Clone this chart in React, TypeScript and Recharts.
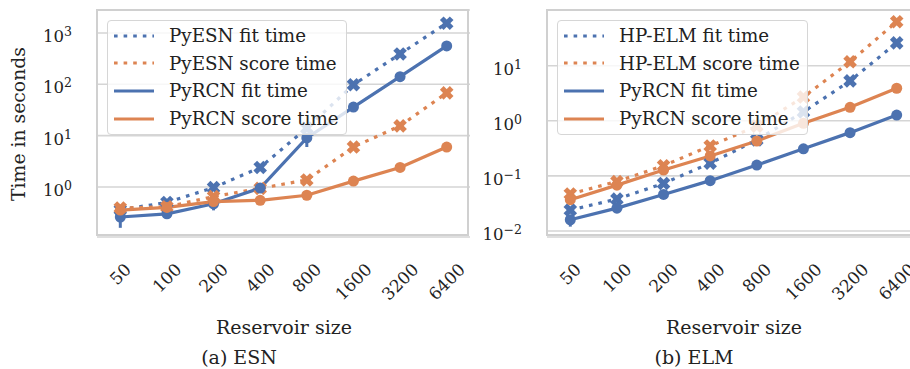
import React from 'react';
import { LineChart, Line, XAxis, YAxis, CartesianGrid, ErrorBar } from 'recharts';

const BLUE = '#4C72B0';
const ORANGE = '#DD8452';
const FONT = '"DejaVu Serif", serif';

const sizes = ['50', '100', '200', '400', '800', '1600', '3200', '6400'];

// (a) ESN
const esnPyesnFit = [0.36, 0.5, 0.97, 2.4, 14, 98, 390, 1550];
const esnPyesnScore = [0.39, 0.41, 0.65, 0.94, 1.37, 6.0, 15.5, 68];
const esnPyrcnFit = [0.26, 0.3, 0.47, 0.95, 9, 36, 141, 560];
const esnPyrcnFitErr = [[0.1, 0.04], [0.05, 0.03], [0.12, 0.05], [0.05, 0.05], [3, 2], [2, 2], [5, 5], [20, 20]];
const esnPyrcnScore = [0.355, 0.4, 0.52, 0.55, 0.69, 1.3, 2.4, 6.0];
const esnTicks = [1, 10, 100, 1000];

// (b) ELM
const elmHpFit = [0.024, 0.038, 0.073, 0.17, 0.45, 1.45, 5.3, 26];
const elmHpScore = [0.047, 0.079, 0.153, 0.35, 0.8, 2.7, 11.8, 63];
const elmPyrcnFit = [0.016, 0.026, 0.046, 0.082, 0.157, 0.31, 0.61, 1.27];
const elmPyrcnFitErr = [[0.004, 0.002], [0.002, 0.002], [0.002, 0.002], [0.002, 0.002], [0.004, 0.004], [0.01, 0.01], [0.02, 0.02], [0.03, 0.03]];
const elmPyrcnScore = [0.037, 0.068, 0.128, 0.23, 0.43, 0.9, 1.76, 3.9];
const elmTicks = [0.01, 0.1, 1, 10];

const esnLegend = ['PyESN fit time', 'PyESN score time', 'PyRCN fit time', 'PyRCN score time'];
const elmLegend = ['HP-ELM fit time', 'HP-ELM score time', 'PyRCN fit time', 'PyRCN score time'];

const esnData = sizes.map((s, i) => ({
  size: s,
  refFit: esnPyesnFit[i],
  refScore: esnPyesnScore[i],
  fit: esnPyrcnFit[i],
  fitErr: esnPyrcnFitErr[i],
  score: esnPyrcnScore[i],
}));

const elmData = sizes.map((s, i) => ({
  size: s,
  refFit: elmHpFit[i],
  refScore: elmHpScore[i],
  fit: elmPyrcnFit[i],
  fitErr: elmPyrcnFitErr[i],
  score: elmPyrcnScore[i],
}));

const circleDot = (color: string) => (props: any) => {
  const { cx, cy, index } = props;
  return <circle key={index} cx={cx} cy={cy} r={5.5} fill={color} />;
};

const crossDot = (color: string) => (props: any) => {
  const { cx, cy, index } = props;
  return (
    <g key={index} fill={color}>
      <rect x={cx - 7} y={cy - 2.6} width={14} height={5.2} transform={`rotate(45 ${cx} ${cy})`} />
      <rect x={cx - 7} y={cy - 2.6} width={14} height={5.2} transform={`rotate(-45 ${cx} ${cy})`} />
    </g>
  );
};

const PowTick = (props: any) => {
  const { x, y, payload } = props;
  const exp = Math.round(Math.log10(payload.value));
  const expStr = exp < 0 ? '\u2212' + Math.abs(exp) : String(exp);
  return (
    <text x={x} y={y + 9} textAnchor="end" fontFamily={FONT} fontSize={16.5} fill="#222">
      <tspan>10</tspan>
      <tspan dy={-6} fontSize={12.5}>{expStr}</tspan>
    </text>
  );
};

const SizeTick = (props: any) => {
  const { x, y, payload } = props;
  const f = 17;
  const w = String(payload.value).length * 0.636 * f;
  const h = 0.73 * f;
  const cy = y + (w + h) / (2 * Math.SQRT2);
  return (
    <text
      x={x}
      y={cy}
      textAnchor="middle"
      dominantBaseline="central"
      transform={`rotate(-45 ${x} ${cy})`}
      fontFamily={FONT}
      fontSize={f}
      fill="#222"
    >
      {payload.value}
    </text>
  );
};

const LegendBox = ({ labels, left }: { labels: string[]; left: number }) => {
  const styles = [
    { color: BLUE, dash: '3.6 6' },
    { color: ORANGE, dash: '3.6 6' },
    { color: BLUE, dash: undefined },
    { color: ORANGE, dash: undefined },
  ];
  return (
    <div
      style={{
        position: 'absolute',
        left,
        top: 20,
        background: 'rgba(255,255,255,0.8)',
        border: '1px solid #d6d6d6',
        borderRadius: 4,
        padding: '1px 7px 2px 5px',
        fontFamily: FONT,
        fontSize: 18.3,
        color: '#222',
      }}
    >
      {labels.map((l, i) => (
        <div key={l} style={{ display: 'flex', alignItems: 'center', height: 27.6 }}>
          <svg width={48} height={10} style={{ marginRight: 8 }}>
            <line x1={1} y1={5} x2={41} y2={5} stroke={styles[i].color} strokeWidth={3.2} strokeDasharray={styles[i].dash} />
          </svg>
          <span style={{ whiteSpace: 'nowrap' }}>{l}</span>
        </div>
      ))}
    </div>
  );
};

const Panel = ({ data, domain, ticks, left }: any) => (
  <div style={{ position: 'absolute', left, top: 0 }}>
    <LineChart width={480} height={330} data={data} margin={{ top: 10, right: 10, bottom: 30, left: 37 }} style={{ overflow: 'visible' }}>
      <CartesianGrid vertical={false} stroke="#d5d5d5" strokeWidth={1.6} />
      <XAxis
        dataKey="size"
        padding={{ left: 23.3, right: 23.3 }}
        axisLine={false}
        tickLine={false}
        tickSize={0}
        tickMargin={25}
        height={63}
        interval={0}
        tick={<SizeTick />}
      />
      <YAxis
        scale="log"
        domain={domain}
        ticks={ticks}
        allowDataOverflow
        axisLine={false}
        tickLine={false}
        tickSize={0}
        tickMargin={25}
        width={60}
        tick={<PowTick />}
      />
      <Line dataKey="refFit" stroke={BLUE} strokeWidth={3.2} strokeDasharray="3.6 6" dot={crossDot(BLUE)} activeDot={false} isAnimationActive={false} />
      <Line dataKey="refScore" stroke={ORANGE} strokeWidth={3.2} strokeDasharray="3.6 6" dot={crossDot(ORANGE)} activeDot={false} isAnimationActive={false} />
      <Line dataKey="fit" stroke={BLUE} strokeWidth={3.2} dot={circleDot(BLUE)} activeDot={false} isAnimationActive={false}>
        <ErrorBar dataKey="fitErr" width={0} stroke={BLUE} strokeWidth={3} direction="y" />
      </Line>
      <Line dataKey="score" stroke={ORANGE} strokeWidth={3.2} dot={circleDot(ORANGE)} activeDot={false} isAnimationActive={false} />
    </LineChart>
    <div style={{ position: 'absolute', left: 97, top: 10, width: 373, height: 227, border: '2px solid #d0d0d0', boxSizing: 'border-box', margin: '-1px 0 0 -1px' }} />
  </div>
);

export default function App() {
  return (
    <div style={{ position: 'absolute', left: 0, top: 0, width: 910, height: 369, overflow: 'hidden', background: '#fff', fontFamily: FONT, color: '#222' }}>
      <Panel data={esnData} domain={[0.106, 2800]} ticks={esnTicks} left={0} />
      <Panel data={elmData} domain={[0.00778, 102.6]} ticks={elmTicks} left={450} />
      <LegendBox labels={esnLegend} left={107} />
      <LegendBox labels={elmLegend} left={557} />
      <div style={{ position: 'absolute', left: 18, top: 124, transform: 'translate(-50%, -50%) rotate(-90deg)', fontSize: 18.8, whiteSpace: 'nowrap' }}>
        Time in seconds
      </div>
      <div style={{ position: 'absolute', left: 284, top: 327, transform: 'translate(-50%, -50%)', fontSize: 19, whiteSpace: 'nowrap' }}>Reservoir size</div>
      <div style={{ position: 'absolute', left: 734, top: 327, transform: 'translate(-50%, -50%)', fontSize: 19, whiteSpace: 'nowrap' }}>Reservoir size</div>
      <div style={{ position: 'absolute', left: 239, top: 357, transform: 'translate(-50%, -50%)', fontSize: 19, whiteSpace: 'nowrap' }}>(a) ESN</div>
      <div style={{ position: 'absolute', left: 694, top: 357, transform: 'translate(-50%, -50%)', fontSize: 19, whiteSpace: 'nowrap' }}>(b) ELM</div>
    </div>
  );
}
